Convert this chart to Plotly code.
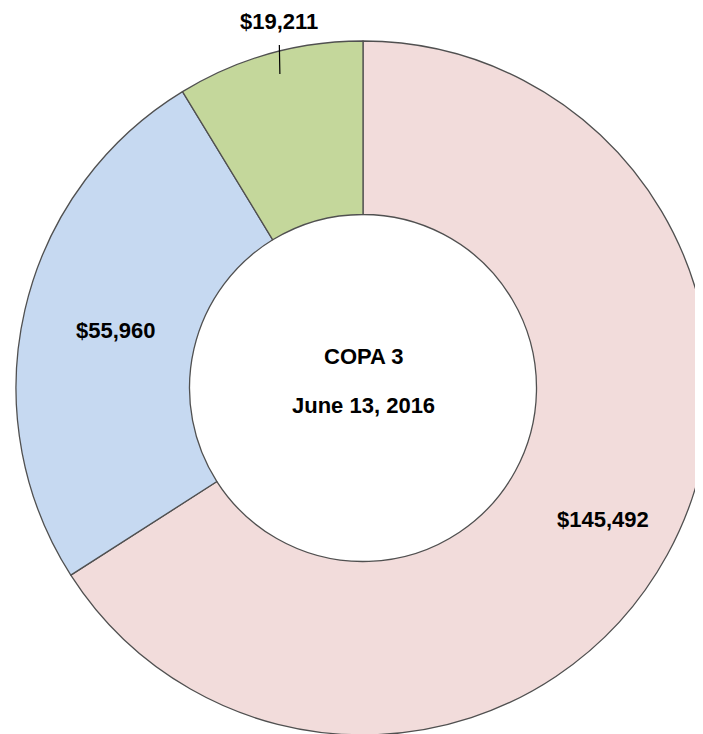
import math
import plotly.graph_objects as go

# Data
categories = ["Category A", "Category B", "Category C"]
values = [145492, 55960, 19211]
slice_colors = ["#F2DCDB", "#C6D9F1", "#C4D79B"]
center_title = "COPA 3"
center_date = "June 13, 2016"

# Layout (pixel geometry inside the figure)
W, H = 703, 734
cx, cy, r = 355, 380, 347
label_radius = [0.79, 0.73, 0.94]      # fraction of outer radius
label_outside = [False, False, True]
FONT = "Liberation Sans, Arial"
FS = 22

fig = go.Figure(
    go.Pie(
        labels=categories,
        values=values,
        hole=0.5,
        sort=False,
        direction="clockwise",
        rotation=0,
        marker=dict(colors=slice_colors, line=dict(color="#505050", width=1.3)),
        textinfo="none",
        showlegend=False,
        hoverinfo="skip",
        domain=dict(x=[max(0, (cx - r) / W), min(1, (cx + r) / W)],
                    y=[max(0, 1 - (cy + r) / H), min(1, 1 - (cy - r) / H)]),
    )
)

total = sum(values)
start = 0.0
for v, rf, outside in zip(values, label_radius, label_outside):
    frac = v / total
    mid = math.radians((start + frac / 2) * 360)
    start += frac
    px = cx + rf * r * math.sin(mid)
    py = cy - rf * r * math.cos(mid)
    txt = "<b>$%s</b>" % format(v, ",")
    if outside:
        fig.add_annotation(
            text=txt, x=px / W, y=1 - py / H, xref="paper", yref="paper",
            xanchor="center", yanchor="middle", xshift=5,
            showarrow=True, arrowhead=0, arrowwidth=1.2, arrowcolor="black",
            ax=-1, ay=-52, startstandoff=10, borderpad=0,
            font=dict(family=FONT, size=FS, color="black"),
        )
    else:
        fig.add_annotation(
            text=txt, x=px / W, y=1 - py / H, xref="paper", yref="paper",
            xanchor="center", yanchor="middle",
            showarrow=False, font=dict(family=FONT, size=FS, color="black"),
        )

fig.add_annotation(
    text="<b>%s</b>" % center_title, x=cx / W, y=1 - (cy - 32) / H, xref="paper", yref="paper",
    xanchor="center", yanchor="middle",
    showarrow=False, font=dict(family=FONT, size=FS, color="black"),
)
fig.add_annotation(
    text="<b>%s</b>" % center_date, x=cx / W, y=1 - (cy + 17) / H, xref="paper", yref="paper",
    xanchor="center", yanchor="middle",
    showarrow=False, font=dict(family=FONT, size=FS, color="black"),
)

fig.update_layout(
    width=W, height=H,
    margin=dict(l=0, r=0, t=0, b=0),
    paper_bgcolor="white",
    plot_bgcolor="white",
    font=dict(family=FONT, size=FS, color="black"),
)

fig.write_html("out.html")
